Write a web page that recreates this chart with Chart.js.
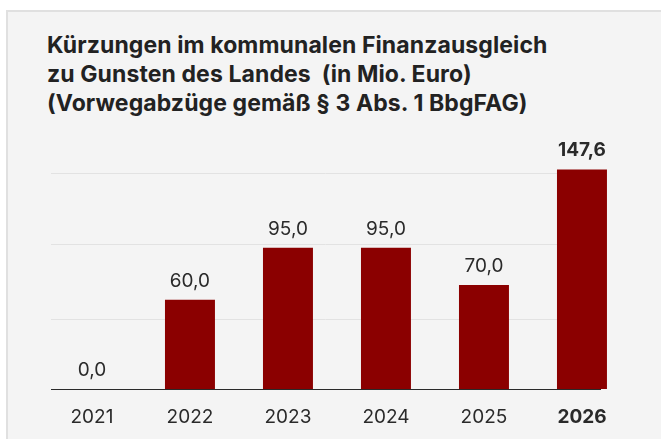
<!DOCTYPE html>
<html lang="de">
<head>
<meta charset="utf-8">
<script src="https://cdn.jsdelivr.net/npm/chart.js@4"></script>
<style>
  html, body { margin: 0; padding: 0; background: #fff; }
  body { width: 661px; height: 439px; position: relative; overflow: hidden; font-family: Inter, "Noto Sans", sans-serif; }
  .panel {
    position: absolute; left: 6px; top: 10px; right: -4px; bottom: -4px;
    background: #f4f4f4; border-top: 2px solid #e0e0e0; border-left: 2px solid #e0e0e0;
  }
  .title {
    position: absolute; left: 47px; top: 31px;
    font-weight: 700; font-size: 23px; line-height: 29px; color: #222;
    letter-spacing: 0.1px; white-space: pre;
  }
  #wrap { position: absolute; left: 0; top: 0; width: 661px; height: 439px; }
</style>
</head>
<body>
<div class="panel"></div>
<div class="title">Kürzungen im kommunalen Finanzausgleich
zu Gunsten des Landes  (in Mio. Euro)
(Vorwegabzüge gemäß § 3 Abs. 1 BbgFAG)</div>
<div id="wrap"><canvas id="chart"></canvas></div>
<script>
const years = ['2021', '2022', '2023', '2024', '2025', '2026'];
const cuts = [0, 60, 95, 95, 70, 147.6];
const gridValues = [47, 97, 145];
const highlightIndex = 5;

const textColor = '#2a2a2a';
const fmt = v => v.toFixed(1).replace('.', ',');

// value labels above each bar
const valueLabels = {
  id: 'valueLabels',
  afterDatasetsDraw(chart) {
    const { ctx } = chart;
    const meta = chart.getDatasetMeta(0);
    ctx.save();
    ctx.textAlign = 'center';
    ctx.textBaseline = 'alphabetic';
    ctx.fillStyle = textColor;
    meta.data.forEach((bar, i) => {
      ctx.font = (i === highlightIndex ? '700 ' : '400 ') + '19px Inter';
      ctx.fillText(fmt(cuts[i]), bar.x, bar.y - 13);
    });
    ctx.restore();
  }
};

new Chart(document.getElementById('chart'), {
  type: 'bar',
  data: {
    datasets: [{
      data: cuts.map((v, i) => ({ x: i, y: v })),
      backgroundColor: '#8b0000',
      borderWidth: 0,
      categoryPercentage: 1,
      barPercentage: 0.51,
      clip: false
    }]
  },
  options: {
    responsive: true,
    maintainAspectRatio: false,
    animation: false,
    layout: { padding: { left: 51, right: 61, top: 151, bottom: 0 } },
    plugins: {
      legend: { display: false },
      tooltip: { enabled: false }
    },
    scales: {
      x: {
        type: 'linear',
        offset: false,
        min: -0.418,
        max: 5.184,
        grid: { display: false, drawTicks: false, offset: false },
        border: { display: true, color: '#2a2a2a', width: 1 },
        afterBuildTicks: s => { s.ticks = years.map((_, i) => ({ value: i })); },
        afterFit: s => { s.height = 50; },
        ticks: {
          padding: 17,
          autoSkip: false,
          maxRotation: 0,
          color: textColor,
          font: c => ({ family: 'Inter', size: 19, weight: c.tick && c.tick.value === highlightIndex ? '700' : '400' }),
          callback: v => years[v]
        }
      },
      y: {
        min: 0,
        max: 160,
        afterBuildTicks: s => { s.ticks = gridValues.map(v => ({ value: v })); },
        afterFit: s => { s.width = 0; },
        grid: { color: '#e2e2e2', lineWidth: 1, drawTicks: false },
        border: { display: false },
        ticks: { display: false }
      }
    }
  },
  plugins: [valueLabels]
});
</script>
</body>
</html>
